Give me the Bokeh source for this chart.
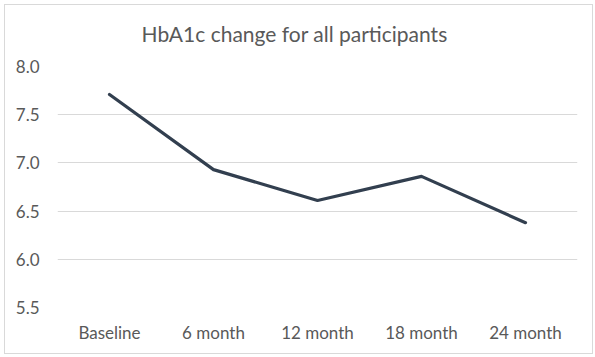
from bokeh.plotting import figure
from bokeh.models import Range1d, FixedTicker, CustomJSTickFormatter, InlineStyleSheet
from bokeh.embed import file_html
from bokeh.resources import INLINE

categories = ["Baseline", "6 month", "12 month", "18 month", "24 month"]
hba1c = [7.71, 6.93, 6.61, 6.86, 6.38]
y_ticks = [5.5, 6.0, 6.5, 7.0, 7.5, 8.0]
title_text = "HbA1c change for all participants"

FONT = "Lato"
GRAY = "#595959"

p = figure(width=595, height=357, x_range=categories, y_range=Range1d(5.5, 8.0),
           output_backend="svg", toolbar_location=None,
           min_border_left=57, min_border_right=18, min_border_top=66, min_border_bottom=50)

p.title.text = title_text
p.title.align = "left"
p.title.offset = 84
p.title.vertical_align = "top"
p.title.text_font = FONT
p.title.text_font_size = "21px"
p.title.text_font_style = "normal"
p.title.text_color = GRAY
p.title.standoff = 38

p.line(x=categories, y=hba1c, line_color="#323F4F", line_width=3.2,
       line_join="round", line_cap="round")

p.outline_line_color = None
p.background_fill_color = "white"
p.border_fill_color = "white"

p.xgrid.grid_line_color = None
p.ygrid.grid_line_color = "#D9D9D9"
p.ygrid.grid_line_width = 1
p.yaxis.ticker = FixedTicker(ticks=y_ticks)
p.yaxis.formatter = CustomJSTickFormatter(code="return tick.toFixed(1);")

for ax in (p.xaxis[0], p.yaxis[0]):
    ax.axis_line_color = None
    ax.major_tick_line_color = None
    ax.minor_tick_line_color = None
    ax.major_label_text_font = FONT
    ax.major_label_text_font_size = "17px"
    ax.major_label_text_color = GRAY

p.yaxis.major_label_standoff = 12
p.xaxis.major_label_standoff = 8

p.stylesheets = [InlineStyleSheet(css=":host::after { content: ''; position: absolute; left: 4px; top: 4px; right: 2px; bottom: 3px;"
                                      " border: 1px solid #D9D9D9; pointer-events: none; z-index: 100; }")]

open("out.html", "w").write(file_html(p, INLINE))
